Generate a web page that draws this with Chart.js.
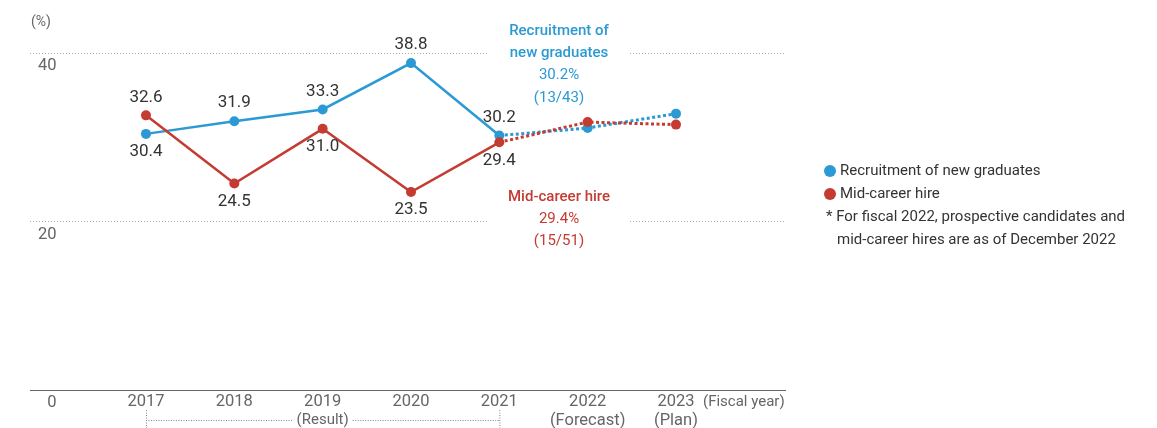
<!DOCTYPE html>
<html>
<head>
<meta charset="utf-8">
<script src="https://cdn.jsdelivr.net/npm/chart.js@4.4.1/dist/chart.umd.min.js"></script>
<style>
  body { margin: 0; background: #fff; }
  #wrap { position: relative; width: 1157px; height: 428px; }
</style>
</head>
<body>
<div id="wrap"><canvas id="rateChart"></canvas></div>
<script>
const years = [2017, 2018, 2019, 2020, 2021, 2022, 2023];
const yearNotes = ['', '', '', '', '', '(Forecast)', '(Plan)'];
const newGrads = [30.4, 31.9, 33.3, 38.8, 30.2, 31.1, 32.8];
const midCareer = [32.6, 24.5, 31.0, 23.5, 29.4, 31.8, 31.5];
const yTicks = [0, 20, 40];

const BLUE = '#2b9ad4';
const RED = '#c43b31';
const FONT = 'Roboto, "Noto Sans", sans-serif';

// labels only on the results, above or below the point
const gradSide = [1, -1, -1, -1, -1, 0, 0];
const midSide = [-1, 1, 1, 1, 1, 0, 0];

const dottedFuture = ctx => ctx.p0DataIndex >= 4 ? [3, 2.5] : undefined;
const widthFuture = ctx => ctx.p0DataIndex >= 4 ? 3 : 2.5;

const overlay = {
    id: 'overlay',
    beforeDatasetsDraw(chart) {
        const ctx = chart.ctx;
        const y = chart.scales.y;
        ctx.save();
        ctx.fillStyle = '#fff';
        [20, 40].forEach(v => {
            const py = y.getPixelForValue(v);
            ctx.fillRect(488, py - 3, 140, 6);
        });
        ctx.restore();
    },
    afterDatasetsDraw(chart) {
        const ctx = chart.ctx;
        ctx.save();
        ctx.font = '17px ' + FONT;
        ctx.fillStyle = '#333';
        ctx.textAlign = 'center';
        ctx.textBaseline = 'middle';
        const sets = [[1, newGrads, gradSide], [0, midCareer, midSide]];
        sets.forEach(([idx, vals, side]) => {
            const meta = chart.getDatasetMeta(idx);
            vals.forEach((v, i) => {
                if (!side[i]) return;
                const p = meta.data[i];
                ctx.fillText(v.toFixed(1), p.x, p.y + side[i] * 18);
            });
        });
        ctx.restore();
    },
    afterDraw(chart) {
        const ctx = chart.ctx;
        const x = chart.scales.x;
        ctx.save();
        ctx.textBaseline = 'middle';

        // unit
        ctx.font = '14px ' + FONT;
        ctx.fillStyle = '#666';
        ctx.textAlign = 'left';
        ctx.fillText('(%)', 31, 22);

        // fiscal year unit
        ctx.font = '15px ' + FONT;
        ctx.fillText('(Fiscal year)', 703, 402);

        // result bracket
        const x0 = x.getPixelForValue(2017);
        const x1 = x.getPixelForValue(2021);
        const xm = x.getPixelForValue(2019);
        ctx.textAlign = 'center';
        ctx.fillText('(Result)', xm, 420);
        const tw = ctx.measureText('(Result)').width;
        ctx.strokeStyle = '#888';
        ctx.lineWidth = 1;
        ctx.setLineDash([1, 1.5]);
        ctx.beginPath();
        ctx.moveTo(x0 + 0.5, 410); ctx.lineTo(x0 + 0.5, 428);
        ctx.moveTo(x1 + 0.5, 410); ctx.lineTo(x1 + 0.5, 428);
        ctx.moveTo(x0, 420.5); ctx.lineTo(xm - tw / 2 - 4, 420.5);
        ctx.moveTo(xm + tw / 2 + 4, 420.5); ctx.lineTo(x1, 420.5);
        ctx.stroke();
        ctx.setLineDash([]);

        // callouts
        ctx.font = '500 15px ' + FONT;
        ctx.fillStyle = BLUE;
        ctx.fillText('Recruitment of', 559, 31);
        ctx.fillText('new graduates', 559, 53);
        ctx.font = '15px ' + FONT;
        ctx.fillText('30.2%', 559, 75);
        ctx.fillText('(13/43)', 559, 98);
        ctx.fillStyle = RED;
        ctx.font = '500 15px ' + FONT;
        ctx.fillText('Mid-career hire', 559, 197);
        ctx.font = '15px ' + FONT;
        ctx.fillText('29.4%', 559, 219);
        ctx.fillText('(15/51)', 559, 241);

        // legend
        ctx.textAlign = 'left';
        ctx.font = '15px ' + FONT;
        [[BLUE, 'Recruitment of new graduates', 171], [RED, 'Mid-career hire', 194]].forEach(([c, t, ly]) => {
            ctx.fillStyle = c;
            ctx.beginPath();
            ctx.arc(830, ly, 6, 0, Math.PI * 2);
            ctx.fill();
            ctx.fillStyle = '#333';
            ctx.fillText(t, 840, ly);
        });
        ctx.fillText('* For fiscal 2022, prospective candidates and', 826, 217);
        ctx.fillText('mid-career hires are as of December 2022', 837, 240);
        ctx.restore();
    }
};

new Chart(document.getElementById('rateChart'), {
    type: 'line',
    data: {
        datasets: [
            {
                label: 'Mid-career hire',
                data: years.map((yr, i) => ({ x: yr, y: midCareer[i] })),
                borderColor: RED,
                backgroundColor: RED,
                pointBackgroundColor: RED,
                borderWidth: 2.5,
                pointRadius: 5,
                pointBorderWidth: 0,
                order: 0,
                segment: { borderDash: dottedFuture, borderWidth: widthFuture }
            },
            {
                label: 'Recruitment of new graduates',
                data: years.map((yr, i) => ({ x: yr, y: newGrads[i] })),
                borderColor: BLUE,
                backgroundColor: BLUE,
                pointBackgroundColor: BLUE,
                borderWidth: 2.5,
                pointRadius: 5,
                pointBorderWidth: 0,
                order: 1,
                segment: { borderDash: dottedFuture, borderWidth: widthFuture }
            }
        ]
    },
    plugins: [overlay],
    options: {
        responsive: true,
        maintainAspectRatio: false,
        animation: false,
        events: [],
        layout: { padding: { top: 53, right: 372, bottom: 0, left: 0 } },
        plugins: {
            legend: { display: false },
            tooltip: { enabled: false }
        },
        scales: {
            x: {
                type: 'linear',
                min: 2015.687,
                max: 2024.234,
                afterFit: s => { s.height = 38; },
                grid: { display: false, drawTicks: false },
                border: { display: true, color: '#666', width: 1 },
                ticks: {
                    stepSize: 1,
                    autoSkip: false,
                    maxRotation: 0,
                    padding: 3,
                    color: '#666',
                    font: { family: FONT, size: 16.5, lineHeight: 1.12 },
                    callback: v => {
                        const i = years.indexOf(v);
                        if (i < 0) return '';
                        return yearNotes[i] ? [String(v), yearNotes[i]] : String(v);
                    }
                }
            },
            y: {
                min: 0,
                max: 40,
                afterFit: s => { s.width = 30; },
                afterBuildTicks: s => { s.ticks = yTicks.map(v => ({ value: v })); },
                grid: {
                    drawTicks: false,
                    color: c => c.tick && c.tick.value === 0 ? 'rgba(0,0,0,0)' : '#aaa',
                    lineWidth: 1
                },
                border: { display: false, dash: [1, 2] },
                ticks: {
                    mirror: true,
                    crossAlign: 'far',
                    padding: 8,
                    labelOffset: 13,
                    color: '#666',
                    font: { family: FONT, size: 16.5 }
                }
            }
        }
    }
});
</script>
</body>
</html>
